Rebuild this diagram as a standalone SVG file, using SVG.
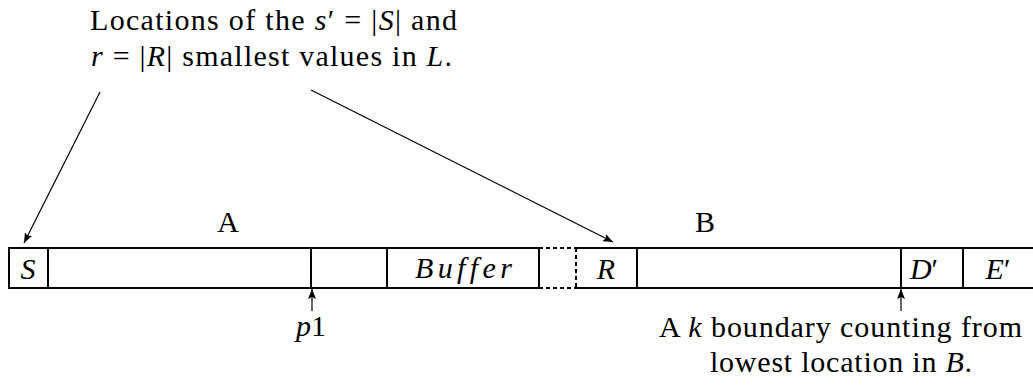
<svg xmlns="http://www.w3.org/2000/svg" width="1033" height="385" viewBox="0 0 1033 385">
<style>
text{font-family:"Liberation Serif","DejaVu Serif",serif;font-size:30px;fill:#000}
.i{font-style:italic}
.box{fill:none;stroke:#000;stroke-width:2}
.dash{fill:none;stroke:#000;stroke-width:2;stroke-dasharray:4 3}
.con{fill:none;stroke:#000;stroke-width:1.2}
</style>
<defs>
<marker id="ah" viewBox="0 0 10 8" refX="10" refY="4" markerWidth="10" markerHeight="8" markerUnits="userSpaceOnUse" orient="auto">
<path d="M0,0 L10,4 L0,8 L2,4 Z" fill="#000"/>
</marker>
</defs>
<rect width="1033" height="385" fill="#fff"/>
<g id="note-top">
<text x="90" y="30" textLength="367" lengthAdjust="spacing">Locations of the <tspan class="i">s</tspan>′ = |<tspan class="i">S</tspan>| and</text>
<text x="91" y="66" textLength="361" lengthAdjust="spacing"><tspan class="i">r</tspan> = |<tspan class="i">R</tspan>| smallest values in <tspan class="i">L</tspan>.</text>
</g>
<g id="cell-S">
<path class="box" d="M9,248 H48 V288 H9 Z"/>
<text class="i" x="28" y="279" text-anchor="middle">S</text>
</g>
<g id="region-A">
<path class="box" d="M48,248 H387 M48,288 H387 M311,248 V288"/>
<text x="228" y="232" text-anchor="middle">A</text>
</g>
<g id="buffer">
<path class="box" d="M387,248 H539 V288 H387 Z"/>
<text class="i" x="415" y="278" textLength="97" lengthAdjust="spacing">Buffer</text>
</g>
<g id="gap">
<path class="dash" d="M539,248 H576 M539,288 H576"/>
</g>
<g id="cell-R">
<path class="dash" d="M576,248 V288"/>
<path class="box" d="M576,248 H637 V288 H576"/>
<text class="i" x="606" y="279" text-anchor="middle">R</text>
</g>
<g id="region-B">
<path class="box" d="M637,248 H901 M637,288 H901"/>
<text x="705" y="232" text-anchor="middle">B</text>
</g>
<g id="cell-D">
<path class="box" d="M901,248 H963 M901,288 H963 M901,248 V288 M963,248 V288"/>
<text x="924" y="279" text-anchor="middle"><tspan class="i">D</tspan>′</text>
</g>
<g id="cell-E">
<path class="box" d="M963,248 H1033 M963,288 H1033"/>
<text x="998" y="279" text-anchor="middle"><tspan class="i">E</tspan>′</text>
</g>
<g id="label-p1">
<text x="311" y="336" text-anchor="middle"><tspan class="i">p</tspan>1</text>
</g>
<g id="label-k">
<text x="659" y="337" textLength="363" lengthAdjust="spacing">A <tspan class="i">k</tspan> boundary counting from</text>
<text x="710" y="372" textLength="262" lengthAdjust="spacing">lowest location in <tspan class="i">B</tspan>.</text>
</g>
<g id="connectors">
<line class="con" x1="100" y1="92" x2="24" y2="243" marker-end="url(#ah)"/>
<line class="con" x1="311" y1="90" x2="613" y2="242" marker-end="url(#ah)"/>
<line class="con" x1="312" y1="311" x2="312" y2="289" marker-end="url(#ah)"/>
<line class="con" x1="901" y1="311" x2="901" y2="289" marker-end="url(#ah)"/>
</g>
</svg>
